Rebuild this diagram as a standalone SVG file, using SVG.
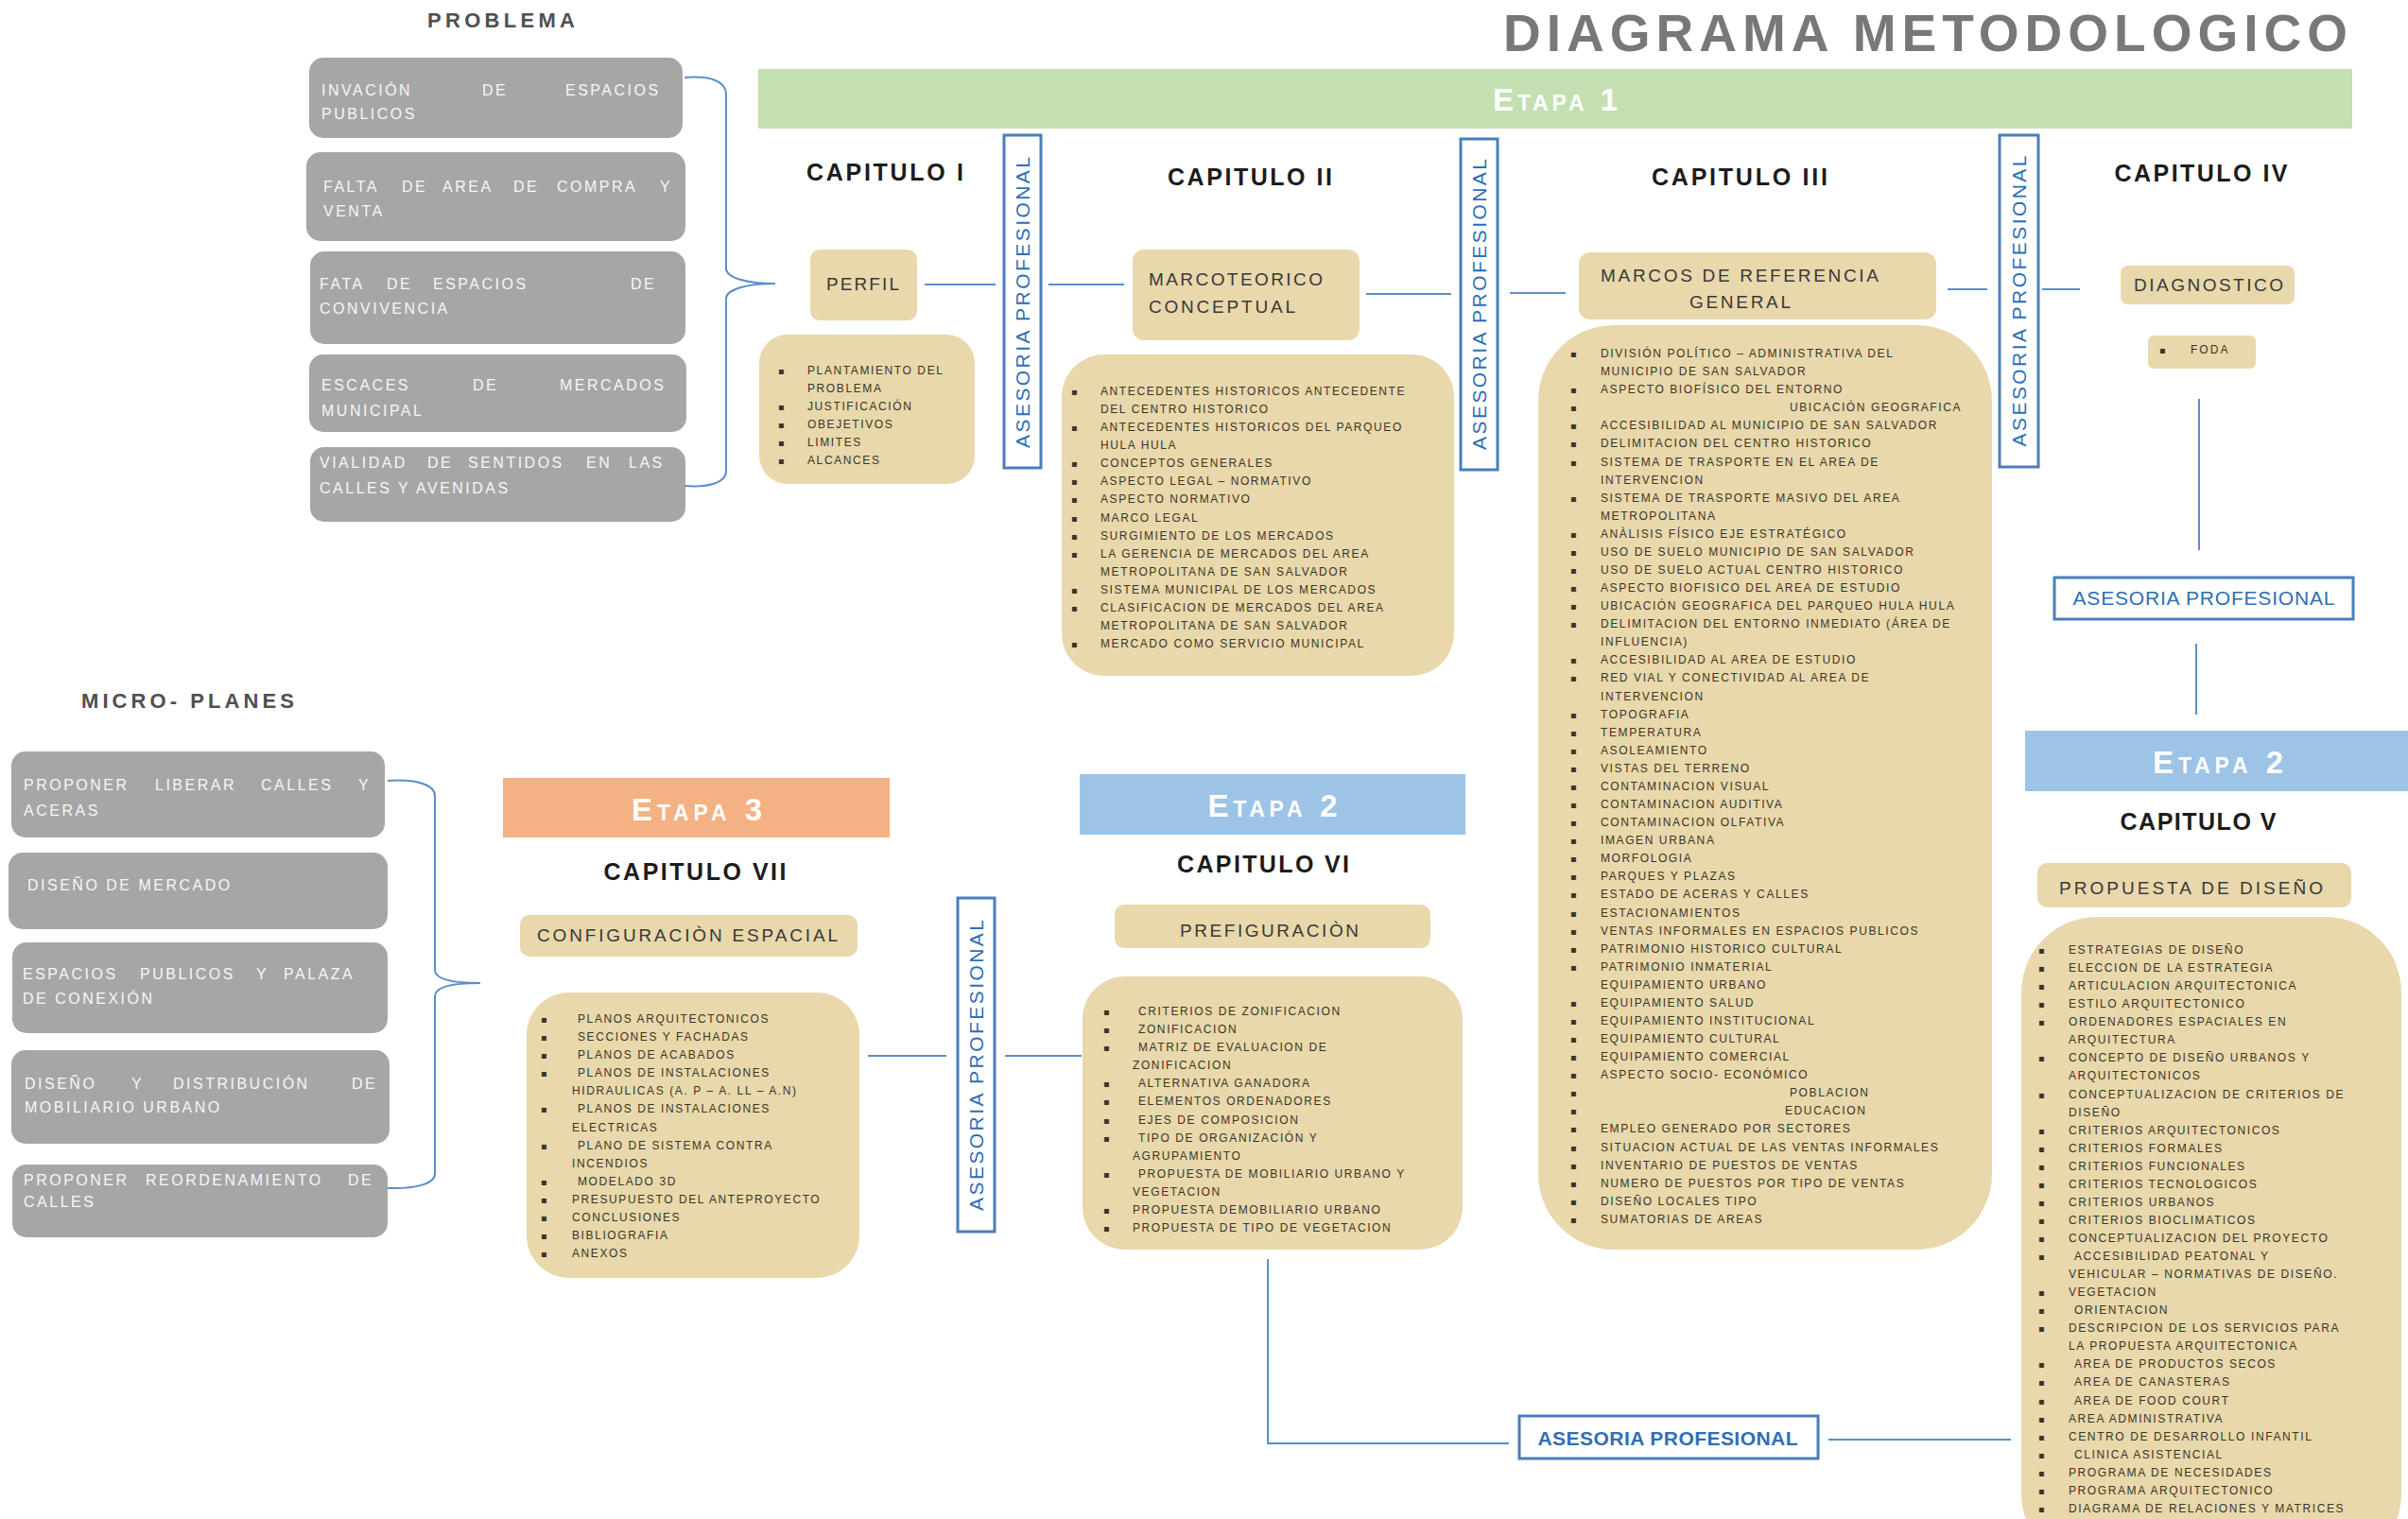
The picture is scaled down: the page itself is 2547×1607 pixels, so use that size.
<svg xmlns="http://www.w3.org/2000/svg" width="2547" height="1607" viewBox="0 0 2547 1607">
<style>
text{font-family:"Liberation Sans",Arial,sans-serif}
.bg{fill:#ffffff}
.gbox{fill:#a6a6a6}
.gtxt{fill:#f7f7f7;font-size:16px;letter-spacing:2.5px}
.lbl{fill:#505050;font-size:22px;font-weight:bold}
.tan{fill:#e8d8ac}
.head{fill:#383838;font-size:19px;letter-spacing:3px}
.cap{fill:#1c1c1c;font-size:25px;font-weight:bold;text-anchor:middle}
.li{fill:#3a3526;font-size:12px;letter-spacing:1.6px}
.bul{fill:#3a3526;font-size:10px;font-family:"DejaVu Sans",sans-serif}
.ase{fill:#ffffff;stroke:#4a7ebb;stroke-width:3}
.asetxt{fill:#2e6fb5;font-size:21px;text-anchor:middle}
.etapa{fill:#ffffff;font-size:33px;font-weight:bold;font-variant:small-caps;text-anchor:middle}
.conn{fill:none;stroke:#5b8ec9;stroke-width:2}
</style>
<rect class="bg" x="0" y="0" width="2547" height="1607"/>

<g id="title">
<text x="1590" y="54" font-size="55" font-weight="bold" fill="#787878" textLength="893" lengthAdjust="spacing">DIAGRAMA METODOLOGICO</text>
</g>

<g id="etapa1">
<rect x="802" y="73" width="1686" height="63" fill="#c4dfb2"/>
<text class="etapa" x="1645" y="117" textLength="132" lengthAdjust="spacing">Etapa 1</text>
</g>

<g id="problema-label"><text class="lbl" x="452" y="29" textLength="156" lengthAdjust="spacing">PROBLEMA</text></g>

<g id="prob1">
<rect class="gbox" x="327" y="61" width="395" height="85" rx="15"/>
<text class="gtxt"><tspan x="340" y="101">INVACIÓN</tspan><tspan x="510" y="101">DE</tspan><tspan x="598" y="101">ESPACIOS</tspan><tspan x="340" y="126">PUBLICOS</tspan></text>
</g>
<g id="prob2">
<rect class="gbox" x="324" y="161" width="401" height="94" rx="15"/>
<text class="gtxt"><tspan x="342" y="203">FALTA</tspan><tspan x="425" y="203">DE</tspan><tspan x="468" y="203">AREA</tspan><tspan x="543" y="203">DE</tspan><tspan x="589" y="203">COMPRA</tspan><tspan x="698" y="203">Y</tspan><tspan x="342" y="229">VENTA</tspan></text>
</g>
<g id="prob3">
<rect class="gbox" x="328" y="266" width="397" height="98" rx="15"/>
<text class="gtxt"><tspan x="338" y="306">FATA</tspan><tspan x="409" y="306">DE</tspan><tspan x="458" y="306">ESPACIOS</tspan><tspan x="667" y="306">DE</tspan><tspan x="338" y="332">CONVIVENCIA</tspan></text>
</g>
<g id="prob4">
<rect class="gbox" x="327" y="375" width="399" height="82" rx="15"/>
<text class="gtxt"><tspan x="340" y="413">ESCACES</tspan><tspan x="500" y="413">DE</tspan><tspan x="592" y="413">MERCADOS</tspan><tspan x="340" y="440">MUNICIPAL</tspan></text>
</g>
<g id="prob5">
<rect class="gbox" x="328" y="473" width="397" height="79" rx="15"/>
<text class="gtxt"><tspan x="338" y="495">VIALIDAD</tspan><tspan x="452" y="495">DE</tspan><tspan x="495" y="495">SENTIDOS</tspan><tspan x="620" y="495">EN</tspan><tspan x="665" y="495">LAS</tspan><tspan x="338" y="522">CALLES Y AVENIDAS</tspan></text>
</g>

<g id="micro-label"><text class="lbl" x="86" y="749" textLength="225" lengthAdjust="spacing">MICRO- PLANES</text></g>

<g id="micro1">
<rect class="gbox" x="12" y="795" width="395" height="91" rx="15"/>
<text class="gtxt"><tspan x="25" y="836">PROPONER</tspan><tspan x="164" y="836">LIBERAR</tspan><tspan x="276" y="836">CALLES</tspan><tspan x="379" y="836">Y</tspan><tspan x="25" y="863">ACERAS</tspan></text>
</g>
<g id="micro2">
<rect class="gbox" x="9" y="902" width="401" height="81" rx="15"/>
<text class="gtxt" x="29" y="942">DISEÑO DE MERCADO</text>
</g>
<g id="micro3">
<rect class="gbox" x="13" y="997" width="397" height="96" rx="15"/>
<text class="gtxt"><tspan x="24" y="1036">ESPACIOS</tspan><tspan x="148" y="1036">PUBLICOS</tspan><tspan x="271" y="1036">Y</tspan><tspan x="300" y="1036">PALAZA</tspan><tspan x="24" y="1062">DE CONEXIÓN</tspan></text>
</g>
<g id="micro4">
<rect class="gbox" x="12" y="1111" width="400" height="99" rx="15"/>
<text class="gtxt"><tspan x="26" y="1152">DISEÑO</tspan><tspan x="139" y="1152">Y</tspan><tspan x="183" y="1152">DISTRIBUCIÓN</tspan><tspan x="372" y="1152">DE</tspan><tspan x="26" y="1177">MOBILIARIO URBANO</tspan></text>
</g>
<g id="micro5">
<rect class="gbox" x="13" y="1232" width="397" height="77" rx="15"/>
<text class="gtxt"><tspan x="25" y="1254">PROPONER</tspan><tspan x="154" y="1254">REORDENAMIENTO</tspan><tspan x="368" y="1254">DE</tspan><tspan x="25" y="1277">CALLES</tspan></text>
</g>

<g id="connectors">
<path class="conn" d="M724,82 C752,80 768,86 768,100 L768,284 C768,294 790,300 820,300 C790,300 768,306 768,316 L768,498 C768,510 752,516 724,514"/>
<path class="conn" d="M410,826 C440,824 460,830 460,842 L460,1026 C460,1036 480,1040 508,1040 C480,1040 460,1044 460,1054 L460,1242 C460,1252 440,1258 410,1257"/>
<line class="conn" x1="978" y1="301" x2="1053" y2="301"/>
<line class="conn" x1="1109" y1="301" x2="1189" y2="301"/>
<line class="conn" x1="1445" y1="311" x2="1535" y2="311"/>
<line class="conn" x1="1597" y1="310" x2="1656" y2="310"/>
<line class="conn" x1="2060" y1="306" x2="2102" y2="306"/>
<line class="conn" x1="2160" y1="306" x2="2200" y2="306"/>
<line class="conn" x1="2326" y1="422" x2="2326" y2="582"/>
<line class="conn" x1="2323" y1="681" x2="2323" y2="756"/>
<line class="conn" x1="918" y1="1117" x2="1001" y2="1117"/>
<line class="conn" x1="1063" y1="1117" x2="1144" y2="1117"/>
<polyline class="conn" points="1341,1332 1341,1527 1596,1527"/>
<line class="conn" x1="1934" y1="1523" x2="2127" y2="1523"/>
</g>

<g id="cap1">
<text class="cap" x="936" y="191" textLength="166" lengthAdjust="spacing">CAPITULO I</text>
<rect class="tan" x="857" y="264" width="113" height="75" rx="10"/>
<text class="head" x="874" y="307" textLength="80" lengthAdjust="spacing">PERFIL</text>
<rect class="tan" x="803" y="354" width="228" height="158" rx="30"/>
<text class="bul"><tspan x="823" y="396">▪</tspan><tspan x="823" y="434">▪</tspan><tspan x="823" y="453">▪</tspan><tspan x="823" y="472">▪</tspan><tspan x="823" y="491">▪</tspan></text>
<text class="li"><tspan x="854" y="396">PLANTAMIENTO DEL</tspan><tspan x="854" y="415">PROBLEMA</tspan><tspan x="854" y="434">JUSTIFICACIÓN</tspan><tspan x="854" y="453">OBEJETIVOS</tspan><tspan x="854" y="472">LIMITES</tspan><tspan x="854" y="491">ALCANCES</tspan></text>
</g>

<g id="asesoria1">
<rect class="ase" x="1062" y="143" width="39" height="352"/>
<text class="asetxt" transform="translate(1081.5,320) rotate(-90)" x="0" y="7.5" textLength="308" lengthAdjust="spacing">ASESORIA PROFESIONAL</text>
</g>

<g id="cap2">
<text class="cap" x="1322" y="196" textLength="174" lengthAdjust="spacing">CAPITULO II</text>
<rect class="tan" x="1198" y="264" width="240" height="96" rx="12"/>
<text class="head"><tspan x="1215" y="302" textLength="187" lengthAdjust="spacing">MARCOTEORICO</tspan><tspan x="1215" y="331" textLength="158" lengthAdjust="spacing">CONCEPTUAL</tspan></text>
<rect class="tan" x="1123" y="375" width="415" height="340" rx="45"/>
<text class="bul"><tspan x="1133" y="418">▪</tspan><tspan x="1133" y="456.1">▪</tspan><tspan x="1133" y="494.3">▪</tspan><tspan x="1133" y="513.4">▪</tspan><tspan x="1133" y="532.4">▪</tspan><tspan x="1133" y="551.5">▪</tspan><tspan x="1133" y="570.6">▪</tspan><tspan x="1133" y="589.6">▪</tspan><tspan x="1133" y="627.8">▪</tspan><tspan x="1133" y="646.8">▪</tspan><tspan x="1133" y="685">▪</tspan></text>
<text class="li"><tspan x="1164" y="418">ANTECEDENTES HISTORICOS ANTECEDENTE</tspan><tspan x="1164" y="437.1">DEL CENTRO HISTORICO</tspan><tspan x="1164" y="456.1">ANTECEDENTES HISTORICOS DEL PARQUEO</tspan><tspan x="1164" y="475.2">HULA HULA</tspan><tspan x="1164" y="494.3">CONCEPTOS GENERALES</tspan><tspan x="1164" y="513.4">ASPECTO LEGAL – NORMATIVO</tspan><tspan x="1164" y="532.4">ASPECTO NORMATIVO</tspan><tspan x="1164" y="551.5">MARCO LEGAL</tspan><tspan x="1164" y="570.6">SURGIMIENTO DE LOS MERCADOS</tspan><tspan x="1164" y="589.6">LA GERENCIA DE MERCADOS DEL AREA</tspan><tspan x="1164" y="608.7">METROPOLITANA DE SAN SALVADOR</tspan><tspan x="1164" y="627.8">SISTEMA MUNICIPAL DE LOS MERCADOS</tspan><tspan x="1164" y="646.8">CLASIFICACION DE MERCADOS DEL AREA</tspan><tspan x="1164" y="665.9">METROPOLITANA DE SAN SALVADOR</tspan><tspan x="1164" y="685">MERCADO COMO SERVICIO MUNICIPAL</tspan></text>
</g>

<g id="asesoria2">
<rect class="ase" x="1545" y="147" width="39" height="350"/>
<text class="asetxt" transform="translate(1564.5,322) rotate(-90)" x="0" y="7.5" textLength="308" lengthAdjust="spacing">ASESORIA PROFESIONAL</text>
</g>

<g id="cap3">
<text class="cap" x="1840" y="196" textLength="186" lengthAdjust="spacing">CAPITULO III</text>
<rect class="tan" x="1670" y="267" width="378" height="71" rx="12"/>
<text class="head"><tspan x="1693" y="298" textLength="297" lengthAdjust="spacing">MARCOS DE REFERENCIA</tspan><tspan x="1787" y="326" textLength="110" lengthAdjust="spacing">GENERAL</tspan></text>
<rect class="tan" x="1627" y="344" width="480" height="978" rx="80"/>
<text class="bul"><tspan x="1661" y="378">▪</tspan><tspan x="1661" y="416.2">▪</tspan><tspan x="1661" y="435.2">▪</tspan><tspan x="1661" y="454.3">▪</tspan><tspan x="1661" y="473.4">▪</tspan><tspan x="1661" y="492.5">▪</tspan><tspan x="1661" y="530.6">▪</tspan><tspan x="1661" y="568.8">▪</tspan><tspan x="1661" y="587.9">▪</tspan><tspan x="1661" y="607">▪</tspan><tspan x="1661" y="626">▪</tspan><tspan x="1661" y="645.1">▪</tspan><tspan x="1661" y="664.2">▪</tspan><tspan x="1661" y="702.4">▪</tspan><tspan x="1661" y="721.4">▪</tspan><tspan x="1661" y="759.6">▪</tspan><tspan x="1661" y="778.7">▪</tspan><tspan x="1661" y="797.8">▪</tspan><tspan x="1661" y="816.8">▪</tspan><tspan x="1661" y="835.9">▪</tspan><tspan x="1661" y="855">▪</tspan><tspan x="1661" y="874.1">▪</tspan><tspan x="1661" y="893.2">▪</tspan><tspan x="1661" y="912.2">▪</tspan><tspan x="1661" y="931.3">▪</tspan><tspan x="1661" y="950.4">▪</tspan><tspan x="1661" y="969.5">▪</tspan><tspan x="1661" y="988.6">▪</tspan><tspan x="1661" y="1007.6">▪</tspan><tspan x="1661" y="1026.7">▪</tspan><tspan x="1661" y="1064.9">▪</tspan><tspan x="1661" y="1084">▪</tspan><tspan x="1661" y="1103">▪</tspan><tspan x="1661" y="1122.1">▪</tspan><tspan x="1661" y="1141.2">▪</tspan><tspan x="1661" y="1160.3">▪</tspan><tspan x="1661" y="1179.4">▪</tspan><tspan x="1661" y="1198.4">▪</tspan><tspan x="1661" y="1217.5">▪</tspan><tspan x="1661" y="1236.6">▪</tspan><tspan x="1661" y="1255.7">▪</tspan><tspan x="1661" y="1274.8">▪</tspan><tspan x="1661" y="1293.8">▪</tspan></text>
<text class="li"><tspan x="1693" y="378">DIVISIÓN POLÍTICO – ADMINISTRATIVA DEL</tspan><tspan x="1693" y="397.1">MUNICIPIO DE SAN SALVADOR</tspan><tspan x="1693" y="416.2">ASPECTO BIOFÍSICO DEL ENTORNO</tspan><tspan x="1893" y="435.2">UBICACIÓN GEOGRAFICA</tspan><tspan x="1693" y="454.3">ACCESIBILIDAD AL MUNICIPIO DE SAN SALVADOR</tspan><tspan x="1693" y="473.4">DELIMITACION DEL CENTRO HISTORICO</tspan><tspan x="1693" y="492.5">SISTEMA DE TRASPORTE EN EL AREA DE</tspan><tspan x="1693" y="511.6">INTERVENCION</tspan><tspan x="1693" y="530.6">SISTEMA DE TRASPORTE MASIVO DEL AREA</tspan><tspan x="1693" y="549.7">METROPOLITANA</tspan><tspan x="1693" y="568.8">ANÀLISIS FÍSICO EJE ESTRATÉGICO</tspan><tspan x="1693" y="587.9">USO DE SUELO MUNICIPIO DE SAN SALVADOR</tspan><tspan x="1693" y="607">USO DE SUELO ACTUAL CENTRO HISTORICO</tspan><tspan x="1693" y="626">ASPECTO BIOFISICO DEL AREA DE ESTUDIO</tspan><tspan x="1693" y="645.1">UBICACIÓN GEOGRAFICA DEL PARQUEO HULA HULA</tspan><tspan x="1693" y="664.2">DELIMITACION DEL ENTORNO INMEDIATO (ÁREA DE</tspan><tspan x="1693" y="683.3">INFLUENCIA)</tspan><tspan x="1693" y="702.4">ACCESIBILIDAD AL AREA DE ESTUDIO</tspan><tspan x="1693" y="721.4">RED VIAL Y CONECTIVIDAD AL AREA DE</tspan><tspan x="1693" y="740.5">INTERVENCION</tspan><tspan x="1693" y="759.6">TOPOGRAFIA</tspan><tspan x="1693" y="778.7">TEMPERATURA</tspan><tspan x="1693" y="797.8">ASOLEAMIENTO</tspan><tspan x="1693" y="816.8">VISTAS DEL TERRENO</tspan><tspan x="1693" y="835.9">CONTAMINACION VISUAL</tspan><tspan x="1693" y="855">CONTAMINACION AUDITIVA</tspan><tspan x="1693" y="874.1">CONTAMINACION OLFATIVA</tspan><tspan x="1693" y="893.2">IMAGEN URBANA</tspan><tspan x="1693" y="912.2">MORFOLOGIA</tspan><tspan x="1693" y="931.3">PARQUES Y PLAZAS</tspan><tspan x="1693" y="950.4">ESTADO DE ACERAS Y CALLES</tspan><tspan x="1693" y="969.5">ESTACIONAMIENTOS</tspan><tspan x="1693" y="988.6">VENTAS INFORMALES EN ESPACIOS PUBLICOS</tspan><tspan x="1693" y="1007.6">PATRIMONIO HISTORICO CULTURAL</tspan><tspan x="1693" y="1026.7">PATRIMONIO INMATERIAL</tspan><tspan x="1693" y="1045.8">EQUIPAMIENTO URBANO</tspan><tspan x="1693" y="1064.9">EQUIPAMIENTO SALUD</tspan><tspan x="1693" y="1084">EQUIPAMIENTO INSTITUCIONAL</tspan><tspan x="1693" y="1103">EQUIPAMIENTO CULTURAL</tspan><tspan x="1693" y="1122.1">EQUIPAMIENTO COMERCIAL</tspan><tspan x="1693" y="1141.2">ASPECTO SOCIO- ECONÓMICO</tspan><tspan x="1893" y="1160.3">POBLACION</tspan><tspan x="1888" y="1179.4">EDUCACION</tspan><tspan x="1693" y="1198.4">EMPLEO GENERADO POR SECTORES</tspan><tspan x="1693" y="1217.5">SITUACION ACTUAL DE LAS VENTAS INFORMALES</tspan><tspan x="1693" y="1236.6">INVENTARIO DE PUESTOS DE VENTAS</tspan><tspan x="1693" y="1255.7">NUMERO DE PUESTOS POR TIPO DE VENTAS</tspan><tspan x="1693" y="1274.8">DISEÑO LOCALES TIPO</tspan><tspan x="1693" y="1293.8">SUMATORIAS DE AREAS</tspan></text>
</g>

<g id="asesoria3">
<rect class="ase" x="2115" y="143" width="41" height="351"/>
<text class="asetxt" transform="translate(2135.5,318.5) rotate(-90)" x="0" y="7.5" textLength="308" lengthAdjust="spacing">ASESORIA PROFESIONAL</text>
</g>

<g id="cap4">
<text class="cap" x="2328" y="192" textLength="183" lengthAdjust="spacing">CAPITULO IV</text>
<rect class="tan" x="2243" y="281" width="184" height="41" rx="8"/>
<text class="head" x="2257" y="308" textLength="161" lengthAdjust="spacing">DIAGNOSTICO</text>
<rect class="tan" x="2272" y="355" width="114" height="35" rx="6"/>
<text class="bul" x="2284" y="374">▪</text>
<text class="li" x="2317" y="374" textLength="41" lengthAdjust="spacing">FODA</text>
</g>

<g id="asesoria-h1">
<rect class="ase" x="2173" y="611" width="316" height="44"/>
<text class="asetxt" x="2331" y="640" font-size="17" textLength="277" lengthAdjust="spacing">ASESORIA PROFESIONAL</text>
</g>

<g id="etapa2-right">
<rect x="2142" y="773" width="405" height="64" fill="#9dc3e6"/>
<text class="etapa" x="2346" y="818" textLength="138" lengthAdjust="spacing">Etapa 2</text>
</g>

<g id="cap5">
<text class="cap" x="2325" y="878" textLength="165" lengthAdjust="spacing">CAPITULO V</text>
<rect class="tan" x="2155" y="913" width="332" height="47" rx="10"/>
<text class="head" x="2178" y="946" textLength="282" lengthAdjust="spacing">PROPUESTA DE DISEÑO</text>
<rect class="tan" x="2138" y="970" width="402" height="690" rx="80"/>
<text class="bul"><tspan x="2156" y="1009">▪</tspan><tspan x="2156" y="1028.1">▪</tspan><tspan x="2156" y="1047.1">▪</tspan><tspan x="2156" y="1066.2">▪</tspan><tspan x="2156" y="1085.2">▪</tspan><tspan x="2156" y="1123.4">▪</tspan><tspan x="2156" y="1161.5">▪</tspan><tspan x="2156" y="1199.6">▪</tspan><tspan x="2156" y="1218.7">▪</tspan><tspan x="2156" y="1237.7">▪</tspan><tspan x="2156" y="1256.8">▪</tspan><tspan x="2156" y="1275.8">▪</tspan><tspan x="2156" y="1294.9">▪</tspan><tspan x="2156" y="1314">▪</tspan><tspan x="2156" y="1333">▪</tspan><tspan x="2156" y="1371.1">▪</tspan><tspan x="2156" y="1390.2">▪</tspan><tspan x="2156" y="1409.3">▪</tspan><tspan x="2156" y="1447.4">▪</tspan><tspan x="2156" y="1466.4">▪</tspan><tspan x="2156" y="1485.5">▪</tspan><tspan x="2156" y="1504.6">▪</tspan><tspan x="2156" y="1523.6">▪</tspan><tspan x="2156" y="1542.7">▪</tspan><tspan x="2156" y="1561.7">▪</tspan><tspan x="2156" y="1580.8">▪</tspan><tspan x="2156" y="1599.9">▪</tspan></text>
<text class="li"><tspan x="2188" y="1009">ESTRATEGIAS DE DISEÑO</tspan><tspan x="2188" y="1028.1">ELECCION DE LA ESTRATEGIA</tspan><tspan x="2188" y="1047.1">ARTICULACION ARQUITECTONICA</tspan><tspan x="2188" y="1066.2">ESTILO ARQUITECTONICO</tspan><tspan x="2188" y="1085.2">ORDENADORES ESPACIALES EN</tspan><tspan x="2188" y="1104.3">ARQUITECTURA</tspan><tspan x="2188" y="1123.4">CONCEPTO DE DISEÑO URBANOS Y</tspan><tspan x="2188" y="1142.4">ARQUITECTONICOS</tspan><tspan x="2188" y="1161.5">CONCEPTUALIZACION DE CRITERIOS DE</tspan><tspan x="2188" y="1180.5">DISEÑO</tspan><tspan x="2188" y="1199.6">CRITERIOS ARQUITECTONICOS</tspan><tspan x="2188" y="1218.7">CRITERIOS FORMALES</tspan><tspan x="2188" y="1237.7">CRITERIOS FUNCIONALES</tspan><tspan x="2188" y="1256.8">CRITERIOS TECNOLOGICOS</tspan><tspan x="2188" y="1275.8">CRITERIOS URBANOS</tspan><tspan x="2188" y="1294.9">CRITERIOS BIOCLIMATICOS</tspan><tspan x="2188" y="1314">CONCEPTUALIZACION DEL PROYECTO</tspan><tspan x="2194" y="1333">ACCESIBILIDAD PEATONAL Y</tspan><tspan x="2188" y="1352.1">VEHICULAR – NORMATIVAS DE DISEÑO.</tspan><tspan x="2188" y="1371.1">VEGETACION</tspan><tspan x="2194" y="1390.2">ORIENTACION</tspan><tspan x="2188" y="1409.3">DESCRIPCION DE LOS SERVICIOS PARA</tspan><tspan x="2188" y="1428.3">LA PROPUESTA ARQUITECTONICA</tspan><tspan x="2194" y="1447.4">AREA DE PRODUCTOS SECOS</tspan><tspan x="2194" y="1466.4">AREA DE CANASTERAS</tspan><tspan x="2194" y="1485.5">AREA DE FOOD COURT</tspan><tspan x="2188" y="1504.6">AREA ADMINISTRATIVA</tspan><tspan x="2188" y="1523.6">CENTRO DE DESARROLLO INFANTIL</tspan><tspan x="2194" y="1542.7">CLINICA ASISTENCIAL</tspan><tspan x="2188" y="1561.7">PROGRAMA DE NECESIDADES</tspan><tspan x="2188" y="1580.8">PROGRAMA ARQUITECTONICO</tspan><tspan x="2188" y="1599.9">DIAGRAMA DE RELACIONES Y MATRICES</tspan></text>
</g>

<g id="etapa2-mid">
<rect x="1142" y="819" width="408" height="64" fill="#9dc3e6"/>
<text class="etapa" x="1346" y="864" textLength="137" lengthAdjust="spacing">Etapa 2</text>
</g>

<g id="cap6">
<text class="cap" x="1336" y="923" textLength="182" lengthAdjust="spacing">CAPITULO VI</text>
<rect class="tan" x="1179" y="957" width="334" height="46" rx="10"/>
<text class="head" x="1248" y="991" textLength="192" lengthAdjust="spacing">PREFIGURACIÒN</text>
<rect class="tan" x="1145" y="1033" width="402" height="289" rx="45"/>
<text class="bul"><tspan x="1167" y="1074">▪</tspan><tspan x="1167" y="1093.1">▪</tspan><tspan x="1167" y="1112.2">▪</tspan><tspan x="1167" y="1150.3">▪</tspan><tspan x="1167" y="1169.4">▪</tspan><tspan x="1167" y="1188.5">▪</tspan><tspan x="1167" y="1207.6">▪</tspan><tspan x="1167" y="1245.7">▪</tspan><tspan x="1167" y="1283.9">▪</tspan><tspan x="1167" y="1303">▪</tspan></text>
<text class="li"><tspan x="1204" y="1074">CRITERIOS DE ZONIFICACION</tspan><tspan x="1204" y="1093.1">ZONIFICACION</tspan><tspan x="1204" y="1112.2">MATRIZ DE EVALUACION DE</tspan><tspan x="1198" y="1131.2">ZONIFICACION</tspan><tspan x="1204" y="1150.3">ALTERNATIVA GANADORA</tspan><tspan x="1204" y="1169.4">ELEMENTOS ORDENADORES</tspan><tspan x="1204" y="1188.5">EJES DE COMPOSICION</tspan><tspan x="1204" y="1207.6">TIPO DE ORGANIZACIÓN Y</tspan><tspan x="1198" y="1226.6">AGRUPAMIENTO</tspan><tspan x="1204" y="1245.7">PROPUESTA DE MOBILIARIO URBANO Y</tspan><tspan x="1198" y="1264.8">VEGETACION</tspan><tspan x="1198" y="1283.9">PROPUESTA DEMOBILIARIO URBANO</tspan><tspan x="1198" y="1303">PROPUESTA DE TIPO DE VEGETACION</tspan></text>
</g>

<g id="asesoria4">
<rect class="ase" x="1013" y="950" width="39" height="353"/>
<text class="asetxt" transform="translate(1032.5,1127) rotate(-90)" x="0" y="7.5" textLength="308" lengthAdjust="spacing">ASESORIA PROFESIONAL</text>
</g>

<g id="etapa3">
<rect x="532" y="823" width="409" height="63" fill="#f4b183"/>
<text class="etapa" x="737" y="868" textLength="138" lengthAdjust="spacing">Etapa 3</text>
</g>

<g id="cap7">
<text class="cap" x="735" y="931" textLength="193" lengthAdjust="spacing">CAPITULO VII</text>
<rect class="tan" x="550" y="968" width="357" height="44" rx="10"/>
<text class="head" x="568" y="996" textLength="321" lengthAdjust="spacing">CONFIGURACIÒN ESPACIAL</text>
<rect class="tan" x="557" y="1050" width="352" height="302" rx="45"/>
<text class="bul"><tspan x="572" y="1082">▪</tspan><tspan x="572" y="1101.1">▪</tspan><tspan x="572" y="1120.2">▪</tspan><tspan x="572" y="1139.2">▪</tspan><tspan x="572" y="1177.4">▪</tspan><tspan x="572" y="1215.6">▪</tspan><tspan x="572" y="1253.7">▪</tspan><tspan x="572" y="1272.8">▪</tspan><tspan x="572" y="1291.9">▪</tspan><tspan x="572" y="1311">▪</tspan><tspan x="572" y="1330">▪</tspan></text>
<text class="li"><tspan x="611" y="1082">PLANOS ARQUITECTONICOS</tspan><tspan x="611" y="1101.1">SECCIONES Y FACHADAS</tspan><tspan x="611" y="1120.2">PLANOS DE ACABADOS</tspan><tspan x="611" y="1139.2">PLANOS DE INSTALACIONES</tspan><tspan x="605" y="1158.3">HIDRAULICAS (A. P – A. LL – A.N)</tspan><tspan x="611" y="1177.4">PLANOS DE INSTALACIONES</tspan><tspan x="605" y="1196.5">ELECTRICAS</tspan><tspan x="611" y="1215.6">PLANO DE SISTEMA CONTRA</tspan><tspan x="605" y="1234.6">INCENDIOS</tspan><tspan x="611" y="1253.7">MODELADO 3D</tspan><tspan x="605" y="1272.8">PRESUPUESTO DEL ANTEPROYECTO</tspan><tspan x="605" y="1291.9">CONCLUSIONES</tspan><tspan x="605" y="1311">BIBLIOGRAFIA</tspan><tspan x="605" y="1330">ANEXOS</tspan></text>
</g>

<g id="asesoria-h2">
<rect class="ase" x="1607" y="1498" width="316" height="45"/>
<text class="asetxt" x="1764" y="1529" font-size="17" font-weight="bold" textLength="275" lengthAdjust="spacing">ASESORIA PROFESIONAL</text>
</g>
</svg>
